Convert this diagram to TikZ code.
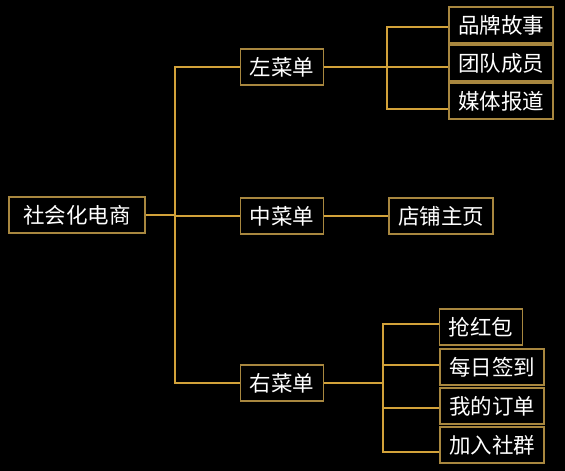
\documentclass[tikz,border=0pt]{standalone}
\usepackage{fontspec}
\usepackage{xcolor}
\usepackage{tikz}
\usetikzlibrary{calc}
\newfontfamily\cjk{Noto Sans CJK SC}
\definecolor{goldline}{HTML}{D2A23A}
\definecolor{boxline}{HTML}{A8873F}
\definecolor{bgblack}{HTML}{000000}

\begin{document}
\begin{tikzpicture}[
  x=1pt, y=-1pt,
  mb/.style={draw=boxline, line width=1.2pt, text=white, minimum height=36pt, inner xsep=9pt, inner ysep=0pt, font=\cjk\fontsize{21.5}{24}\selectfont},
  ln/.style={goldline, line width=1.4pt}
]
% background
\fill[bgblack] (0,0) rectangle (565,471);
% root
\node[mb, minimum width=136pt] (root) at (77,215) {社会化电商};
\coordinate (tk) at (175,215);
% menus
\node[mb] (lm) at (282,67) {左菜单};
\node[mb] (mm) at (282,216) {中菜单};
\node[mb] (rm) at (282,383) {右菜单};
\draw[ln] (root.east) -- (tk);
\draw[ln] (tk) |- (lm.west);
\draw[ln] (tk) |- (mm.west);
\draw[ln] (tk) |- (rm.west);
% left menu items
\node[mb] (pp) at (501,25) {品牌故事};
\node[mb] (td) at (501,63) {团队成员};
\node[mb] (mt) at (501,101) {媒体报道};
\coordinate (lt) at (387,67);
\draw[ln] (lm.east) -- (lt);
\draw[ln] (lt) |- ([yshift=-2pt]pp.west);
\draw[ln] (lt) |- ([yshift=-4pt]td.west);
\draw[ln] (lt) |- ([yshift=-8pt]mt.west);
% middle menu item
\node[mb] (dp) at (441,216) {店铺主页};
\draw[ln] (mm.east) -- (dp.west);
% right menu items
\node[mb] (qh) at (481,327) {抢红包};
\node[mb] (mr) at (492,367) {每日签到};
\node[mb] (wd) at (492,406) {我的订单};
\node[mb] (jr) at (492,445) {加入社群};
\coordinate (rt) at (383,383);
\draw[ln] (rm.east) -- (rt);
\draw[ln] (rt) |- ([yshift=3pt]qh.west);
\draw[ln] (rt) |- ([yshift=2pt]mr.west);
\draw[ln] (rt) |- ([yshift=-2pt]wd.west);
\draw[ln] (rt) |- ([yshift=-7pt]jr.west);
\end{tikzpicture}
\end{document}
